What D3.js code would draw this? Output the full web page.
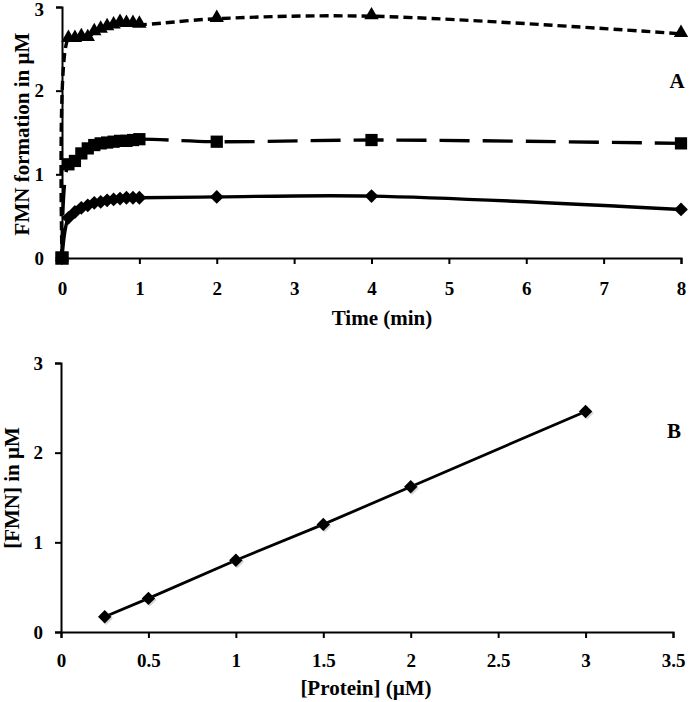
<!DOCTYPE html>
<html><head><meta charset="utf-8">
<script src="https://cdn.jsdelivr.net/npm/d3@7"></script>
<style>
html,body{margin:0;padding:0;background:#fff;}
text{font-family:"Liberation Serif","Times New Roman",serif;font-weight:bold;fill:#000;}
</style></head>
<body>
<svg id="c" width="693" height="702"></svg>
<script>
// Panel A data
const timeMin = [0, 0.083, 0.167, 0.25, 0.333, 0.417, 0.5, 0.583, 0.667, 0.75, 0.833, 0.917, 1, 2, 4, 8];
const seriesTriangle = [0, 2.62, 2.62, 2.64, 2.63, 2.70, 2.73, 2.76, 2.78, 2.81, 2.80, 2.80, 2.79, 2.86, 2.89, 2.68];
const seriesSquare = [0, 1.12, 1.16, 1.25, 1.31, 1.35, 1.37, 1.38, 1.39, 1.40, 1.40, 1.41, 1.42, 1.39, 1.41, 1.37];
const seriesDiamond = [0, 0.48, 0.55, 0.60, 0.63, 0.66, 0.67, 0.69, 0.70, 0.71, 0.72, 0.72, 0.72, 0.73, 0.74, 0.58];
const ticksA_x = [0, 1, 2, 3, 4, 5, 6, 7, 8];
const ticksA_y = [0, 1, 2, 3];
// Panel B data
const protein = [0.25, 0.5, 1, 1.5, 2, 3];
const fmn = [0.17, 0.375, 0.80, 1.20, 1.62, 2.46];
const ticksB_x = [0, 0.5, 1, 1.5, 2, 2.5, 3, 3.5];
const ticksB_y = [0, 1, 2, 3];

const svg = d3.select("#c");

function styleAxis(g){
  g.selectAll(".domain").attr("stroke","#000").attr("stroke-width",2);
  g.selectAll(".tick line").attr("stroke","#000").attr("stroke-width",2);
  g.selectAll(".tick text").style("font-family",'"Liberation Serif",serif').style("font-weight","bold").style("font-size","19px").attr("fill","#000");
}

// ---------- Panel A ----------
const xA = d3.scaleLinear().domain([0,8]).range([62,681]);
const yA = d3.scaleLinear().domain([0,3]).range([258,7]);

const gAx = svg.append("g").attr("transform","translate(0,258)")
  .call(d3.axisBottom(xA).tickValues(ticksA_x).tickFormat(d3.format("d")).tickSizeOuter(0).tickSize(6).tickPadding(18));
styleAxis(gAx);
const gAy = svg.append("g").attr("transform","translate(62,0)")
  .call(d3.axisLeft(yA).tickValues(ticksA_y).tickFormat(d3.format("d")).tickSizeOuter(0).tickSize(6).tickPadding(12));
styleAxis(gAy);
gAy.selectAll(".tick text").filter(d=>d===3).attr("dy","0.45em");

const curve = d3.curveCatmullRom.alpha(0.5);
function drawSeries(vals, dash, symbolFn){
  const pts = timeMin.map((t,i)=>[t, vals[i]]);
  svg.append("path").datum(pts)
    .attr("fill","none").attr("stroke","#000").attr("stroke-width",3.4)
    .attr("stroke-dasharray", dash)
    .attr("d", d3.line().x(d=>xA(d[0])).y(d=>yA(d[1])).curve(curve));
  svg.append("g").selectAll("path").data(pts).join("path")
    .attr("transform", d=>symbolFn.tr(d))
    .attr("d", symbolFn.d).attr("fill","#000");
}
const tri = {d: d3.symbol().type(d3.symbolTriangle).size(90)(), tr: d=>`translate(${xA(d[0])},${yA(d[1])-1})`};
const sq = {d: d3.symbol().type(d3.symbolSquare).size(150)(), tr: d=>`translate(${xA(d[0])},${yA(d[1])})`};
const dia = {d: d3.symbol().type(d3.symbolSquare).size(95)(), tr: d=>`translate(${xA(d[0])},${yA(d[1])}) rotate(45)`};

drawSeries(seriesDiamond, null, dia);
drawSeries(seriesTriangle, "9,5", tri);
drawSeries(seriesSquare, "30,13", sq);
// origin marker (square on top)
svg.append("path").attr("d", d3.symbol().type(d3.symbolSquare).size(180)())
  .attr("transform",`translate(${xA(timeMin[0])},${yA(seriesSquare[0])})`).attr("fill","#000");

svg.append("text").attr("x",382).attr("y",325).attr("text-anchor","middle").style("font-size","21px").text("Time (min)");
svg.append("text").attr("transform","translate(29,134) rotate(-90)").attr("text-anchor","middle").style("font-size","21px").text("FMN formation in µM");
svg.append("text").attr("x",677).attr("y",88).attr("text-anchor","middle").style("font-size","21px").text("A");

// ---------- Panel B ----------
const xB = d3.scaleLinear().domain([0,3.5]).range([61,673]);
const yB = d3.scaleLinear().domain([0,3]).range([632,363]);

const gBx = svg.append("g").attr("transform","translate(0,632)")
  .call(d3.axisBottom(xB).tickValues(ticksB_x).tickFormat(d=>String(d)).tickSizeOuter(0).tickSize(6).tickPadding(16));
styleAxis(gBx);
const gBy = svg.append("g").attr("transform","translate(61,0)")
  .call(d3.axisLeft(yB).tickValues(ticksB_y).tickFormat(d3.format("d")).tickSizeOuter(0).tickSize(6).tickPadding(12));
styleAxis(gBy);

const ptsB = protein.map((p,i)=>[p, fmn[i]]);
svg.append("path").datum(ptsB).attr("fill","none").attr("stroke","#000").attr("stroke-width",2.8)
  .attr("d", d3.line().x(d=>xB(d[0])).y(d=>yB(d[1])));
svg.append("g").selectAll("path").data(ptsB).join("path")
  .attr("transform", d=>`translate(${xB(d[0])+1.5},${yB(d[1])+1.5}) rotate(45)`)
  .attr("d", d3.symbol().type(d3.symbolSquare).size(90)()).attr("fill","#bbb").attr("opacity",0.6);
svg.append("g").selectAll("path").data(ptsB).join("path")
  .attr("transform", d=>`translate(${xB(d[0])},${yB(d[1])}) rotate(45)`)
  .attr("d", d3.symbol().type(d3.symbolSquare).size(90)()).attr("fill","#000");

svg.append("text").attr("x",366).attr("y",695).attr("text-anchor","middle").style("font-size","21px").text("[Protein] (µM)");
svg.append("text").attr("transform","translate(19,488) rotate(-90)").attr("text-anchor","middle").style("font-size","21px").text("[FMN] in µM");
svg.append("text").attr("x",674).attr("y",438).attr("text-anchor","middle").style("font-size","21px").text("B");
</script>
</body></html>
